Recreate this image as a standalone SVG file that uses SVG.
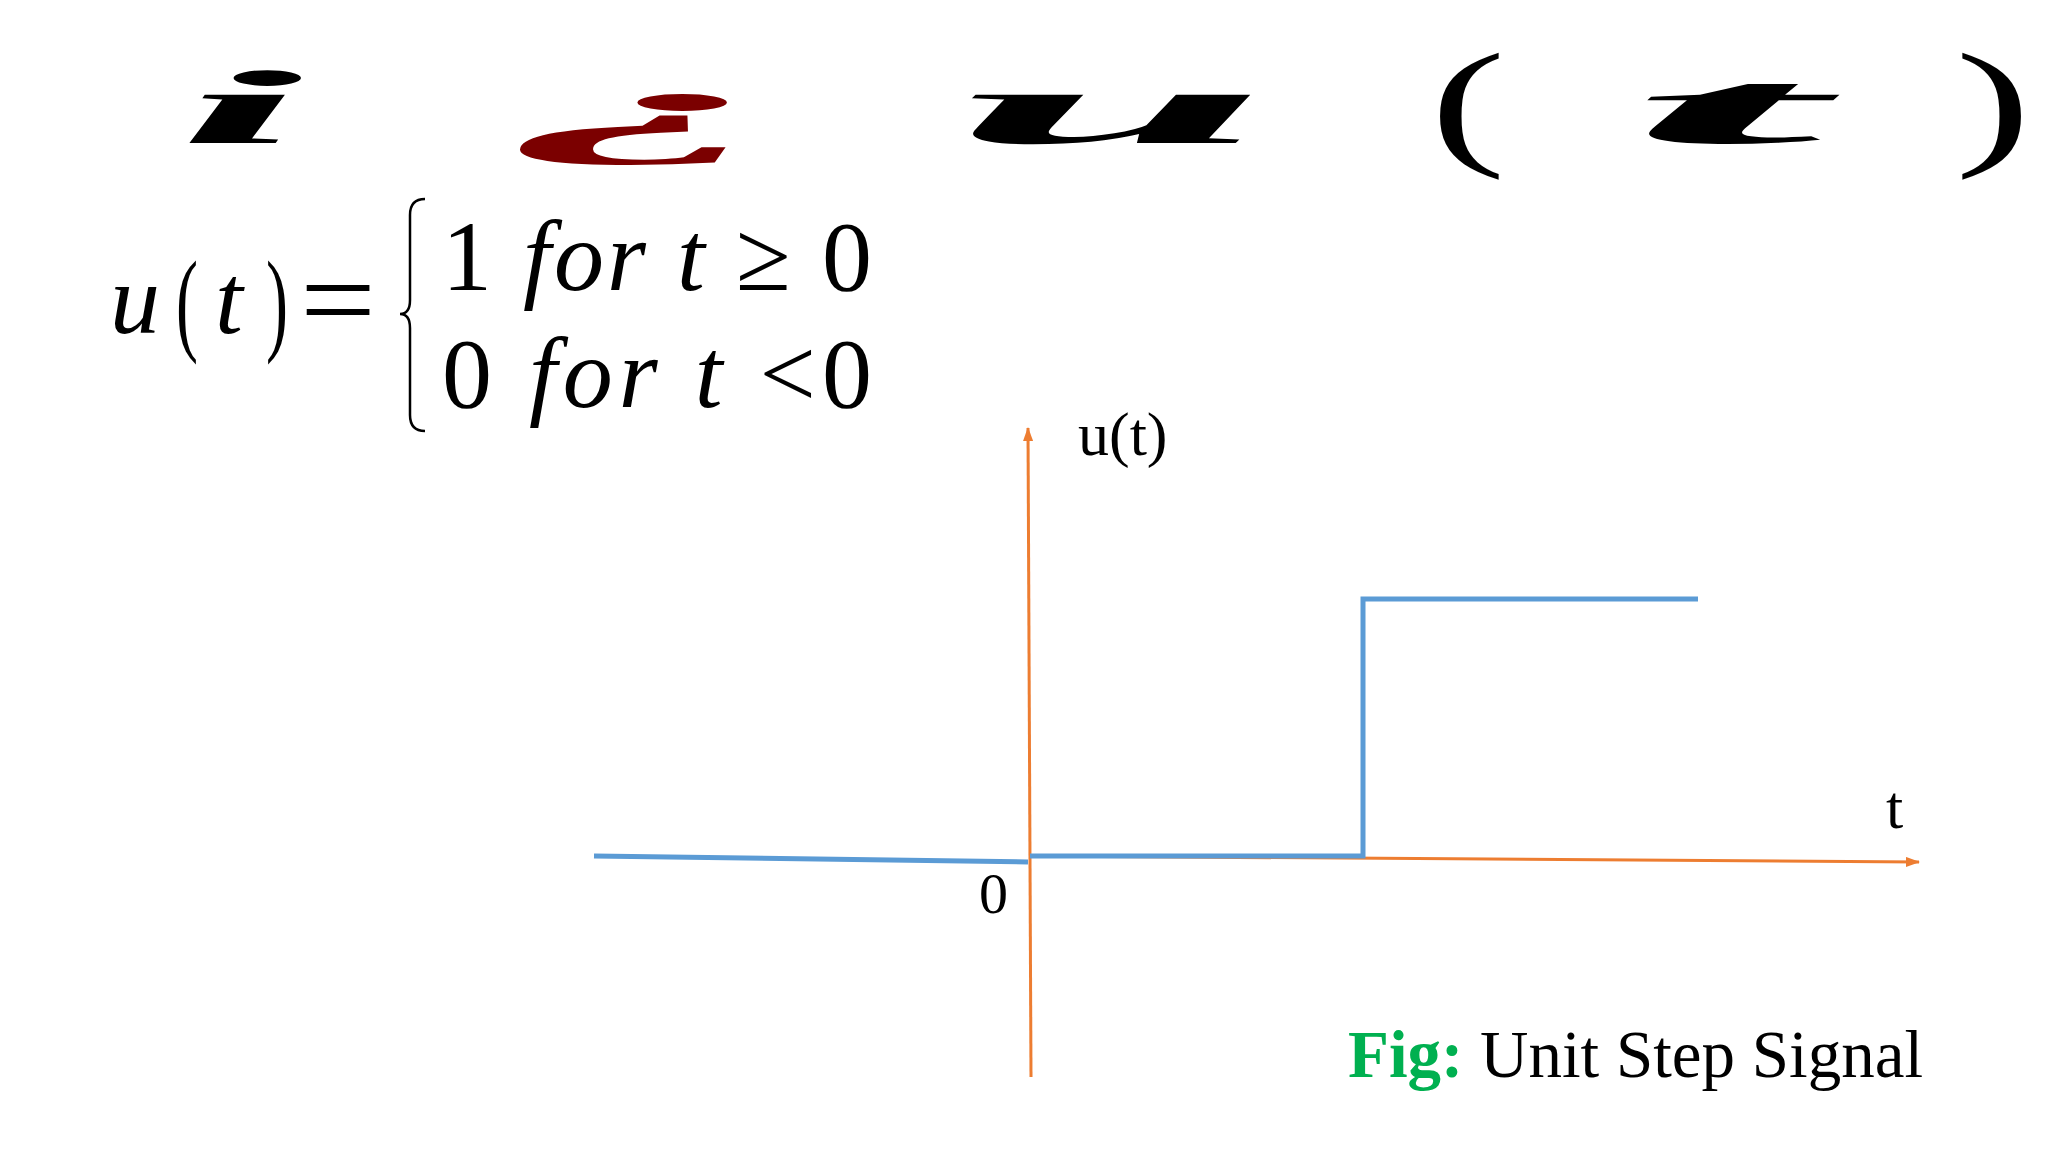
<svg xmlns="http://www.w3.org/2000/svg" width="2048" height="1152" viewBox="0 0 2048 1152">
<style>
.t{font-family:"Liberation Serif",serif;fill:#000}
.ti{font-family:"Liberation Serif",serif;font-style:italic;font-weight:bold}
.ax{stroke:#ED7D31;stroke-width:3;fill:none}
.sig{stroke:#5B9BD5;stroke-width:5;fill:none}
</style>
<defs><marker id="ah" markerWidth="14" markerHeight="10" refX="13" refY="5" orient="auto" markerUnits="userSpaceOnUse"><path d="M0,0L14,5L0,10z" fill="#ED7D31"/></marker></defs>
<rect width="2048" height="1152" fill="#fff"/>
<g id="title">
<text class="ti" x="178" y="143" font-size="105" textLength="125" lengthAdjust="spacingAndGlyphs">i</text>
<text class="ti" x="507" y="143" font-size="105" fill="#7B0000" textLength="277" lengthAdjust="spacingAndGlyphs">¿</text>
<text class="ti" x="951" y="143" font-size="105" textLength="318" lengthAdjust="spacingAndGlyphs">u</text>
<text class="t" x="1430" y="150" font-size="140" textLength="76" lengthAdjust="spacingAndGlyphs">(</text>
<text class="ti" x="1626" y="143" font-size="105" textLength="196" lengthAdjust="spacingAndGlyphs">t</text>
<text class="t" x="1955" y="150" font-size="140" textLength="76" lengthAdjust="spacingAndGlyphs">)</text>
</g>
<g id="equation" font-family="Liberation Serif,serif" font-size="100">
<text x="110" y="333" font-style="italic">u</text>
<text x="176" y="340" font-size="115" textLength="22" lengthAdjust="spacingAndGlyphs">(</text>
<text x="215" y="333" font-style="italic">t</text>
<text x="266" y="340" font-size="115" textLength="22" lengthAdjust="spacingAndGlyphs">)</text>
<text x="300" y="340" font-size="120" textLength="76" lengthAdjust="spacingAndGlyphs">=</text>
<path d="M425,199 Q410,199 410,215 L410,300 Q410,314 400,314 Q410,314 410,328 L410,415 Q410,431 425,431" stroke="#000" stroke-width="2.5" fill="none"/>
<text x="442" y="290" textLength="430">1 <tspan font-style="italic">for t</tspan> ≥ 0</text>
<text x="442" y="407" textLength="430">0 <tspan font-style="italic">for t</tspan> &lt;0</text>
</g>
<g id="connectors">
<path class="ax" d="M1031,1077 L1028,428" marker-end="url(#ah)"/>
<path class="ax" d="M1029,856 L1919,862" marker-end="url(#ah)"/>
<path class="sig" d="M594,856 L1028,862"/>
<path class="sig" d="M1030,856 L1363,856 L1363,599 L1698,599"/>
</g>
<g id="labels" class="t">
<text class="t" x="1078" y="455" font-size="62">u(t)</text>
<text class="t" x="1886" y="828" font-size="62">t</text>
<text class="t" x="979" y="913" font-size="58">0</text>
<text class="t" x="1348" y="1077" font-size="67"><tspan fill="#00B050" font-weight="bold">Fig:</tspan> Unit Step Signal</text>
</g>
</svg>
